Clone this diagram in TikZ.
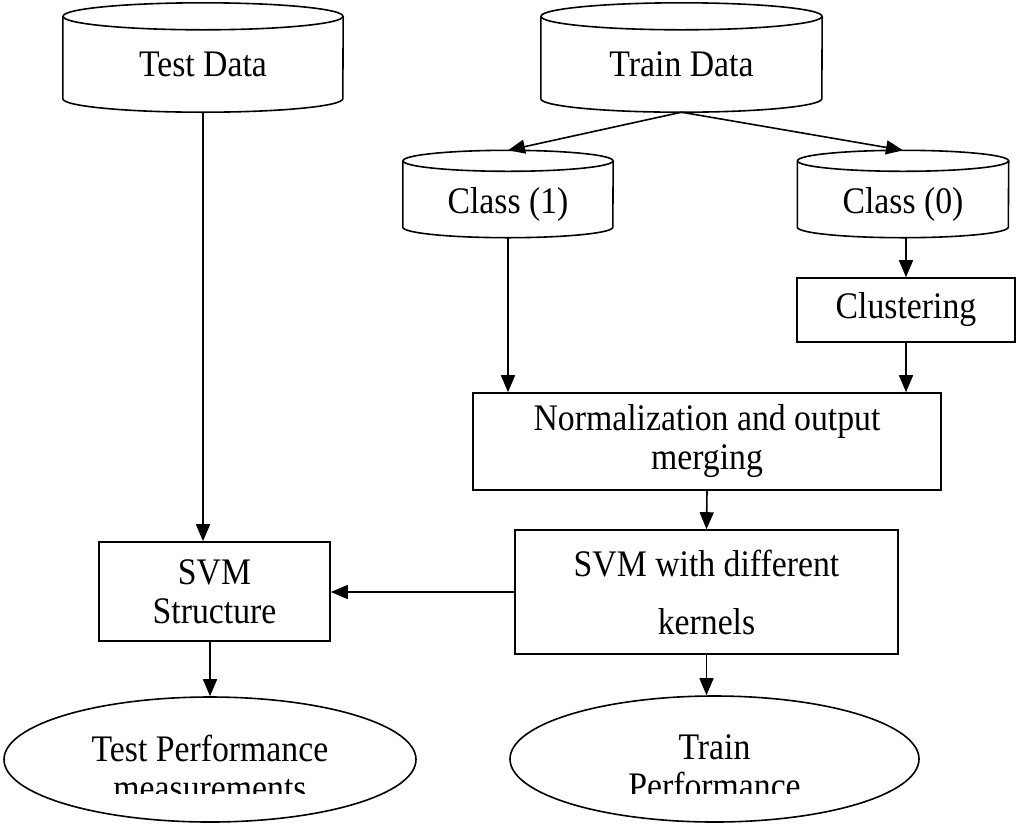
\documentclass[tikz,border=0pt]{standalone}
\usepackage{fontspec}
\setmainfont{Liberation Serif}[FakeStretch=0.9]
\usetikzlibrary{arrows.meta,shapes.geometric}
\tikzset{
  db/.style={rectangle, inner sep=0pt, text height=38pt, text depth=0pt},
  box/.style={rectangle, draw, line width=1.6pt, inner sep=0pt, align=center},
  perf/.style={ellipse, draw, line width=1.6pt, inner sep=0pt},
  arr/.style={-{Triangle[length=17pt,width=14pt]}, line width=1.6pt},
}
% drum outline round node #1, half width #2, cap radius #3
\newcommand{\drum}[3]{%
  \draw[line width=1.6pt] ([yshift=-#3]#1.north) ellipse [x radius=#2, y radius=#3];
  \draw[line width=1.6pt] ([yshift=-#3]#1.north west) -- ([yshift=#3]#1.south west)
    arc[start angle=180, end angle=360, x radius=#2, y radius=#3] -- ([yshift=-#3]#1.north east);
}
\begin{document}
\begin{tikzpicture}[x=1pt,y=-1pt,font=\fontsize{37.5}{39}\selectfont]
\useasboundingbox (0,0) rectangle (1017,823);
\node[db, minimum width=280, minimum height=109] (testdata) at (203,57.5) {Test Data};
\node[db, minimum width=281, minimum height=109] (traindata) at (681.5,57.5) {Train Data};
\node[db, minimum width=210, minimum height=87] (class1) at (508,194) {Class (1)};
\node[db, minimum width=211, minimum height=87] (class0) at (903,194) {Class (0)};
\drum{testdata}{140pt}{13.5pt}
\drum{traindata}{140.5pt}{13.5pt}
\drum{class1}{105pt}{10.5pt}
\drum{class0}{105.5pt}{10.5pt}
\node[box, minimum width=218, minimum height=64] (clustering) at (906,310) {Clustering};
\node[box, minimum width=468, minimum height=97] (norm) at (707,441.5) {Normalization and output\\merging};
\node[box, minimum width=383, minimum height=124] (svmk) at (706.5,592) {SVM with different\\[19pt]kernels};
\node[box, minimum width=231, minimum height=99] (svms) at (214.5,591.5) {SVM\\Structure};
\node[perf, minimum width=412, minimum height=125] (testperf) at (210,759.5) {};
\node[perf, minimum width=409, minimum height=126] (trainperf) at (714.5,759) {};
\begin{scope}
\clip (0,700) rectangle (1017,793);
\node[align=center] at ([yshift=-8pt]testperf.center) {Test Performance\\measurements};
\node[align=center] at ([yshift=-8pt]trainperf.center) {Train\\Performance};
\end{scope}
\draw[arr] (traindata.south) -- (class1.north);
\draw[arr] (traindata.south) -- (class0.north);
\draw[arr] (testdata.south) -- (testdata.south |- svms.north);
\draw[arr] (class1.south) -- (class1.south |- norm.north);
\draw[arr] (clustering.north |- class0.south) -- (clustering.north);
\draw[arr] (clustering.south) -- (clustering.south |- norm.north);
\draw[arr] (norm.south) -- (svmk.north);
\draw[arr] (svmk.west) -- (svmk.west -| svms.east);
\draw[arr] (testperf.north |- svms.south) -- (testperf.north);
\draw[arr] (svmk.south) -- (svmk.south |- trainperf.north);
\end{tikzpicture}
\end{document}
